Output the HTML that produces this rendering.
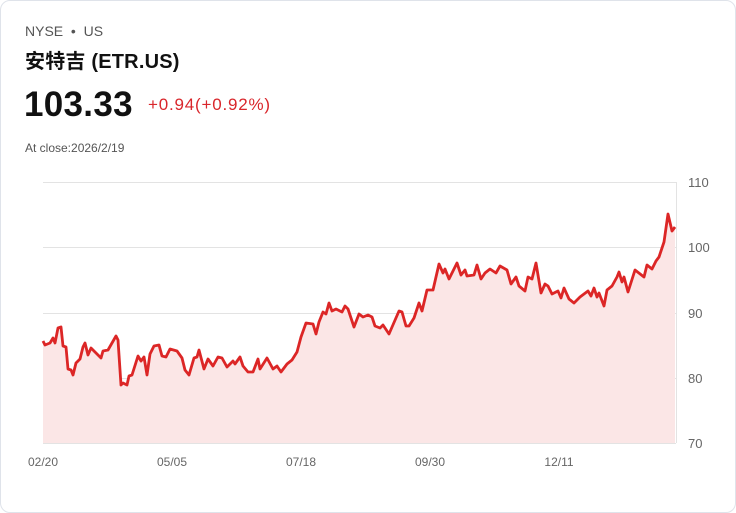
<!DOCTYPE html>
<html><head><meta charset="utf-8"><style>
html,body{margin:0;padding:0;background:#fff;}
body{width:736px;height:513px;overflow:hidden;font-family:"Liberation Sans","Noto Sans CJK SC",sans-serif;}
.card{position:absolute;left:0;top:0;width:734px;height:511px;border:1px solid #dfe3ea;border-radius:10px;}
.t{position:absolute;white-space:nowrap;}
</style></head><body>
<div class="card"></div>
<div class="t" style="left:25px;top:23px;font-size:14px;color:#555;">NYSE &nbsp;•&nbsp; US</div>
<div class="t" style="left:25px;top:45px;font-size:20px;font-weight:bold;color:#111;letter-spacing:0.2px;">安特吉 (ETR.US)</div>
<div class="t" style="left:24px;top:85px;font-size:35px;font-weight:bold;color:#111;letter-spacing:0.3px;">103.33</div>
<div class="t" style="left:148px;top:95px;font-size:17px;font-weight:500;color:#d9262b;letter-spacing:0.8px;">+0.94(+0.92%)</div>
<div class="t" style="left:25px;top:141px;font-size:12px;color:#555;">At close:2026/2/19</div>
<svg width="736" height="513" style="position:absolute;left:0;top:0" font-family="Liberation Sans, sans-serif">
<g stroke="#e3e3e3" stroke-width="1">
<line x1="43" y1="182.5" x2="676" y2="182.5"/><line x1="43" y1="247.5" x2="676" y2="247.5"/><line x1="43" y1="313.5" x2="676" y2="313.5"/><line x1="43" y1="378.5" x2="676" y2="378.5"/><line x1="43" y1="443.5" x2="676" y2="443.5"/>
<line x1="676.5" y1="182" x2="676.5" y2="443"/>
</g>
<g font-size="13" fill="#666">
<text x="688" y="187">110</text><text x="688" y="252">100</text><text x="688" y="318">90</text><text x="688" y="383">80</text><text x="688" y="448">70</text>
<text x="43" y="466" text-anchor="middle" font-size="12">02/20</text>
<text x="172" y="466" text-anchor="middle" font-size="12">05/05</text>
<text x="301" y="466" text-anchor="middle" font-size="12">07/18</text>
<text x="430" y="466" text-anchor="middle" font-size="12">09/30</text>
<text x="559" y="466" text-anchor="middle" font-size="12">12/11</text>
</g>
<path fill="#fbe6e6" d="M43,341 L45,345 L50,343 L53,338 L55,343 L58,328 L61,327 L63,346 L66,347 L68,369 L71,370 L73,375 L76,363 L80,359 L83,347 L85,343 L88,355 L91,348 L95,352 L101,358 L103,351 L108,350 L112,343 L116,336 L118,340 L121,385 L123,383 L127,385 L129,376 L132,375 L138,356 L141,361 L144,357 L147,375 L150,354 L154,346 L159,345 L162,356 L166,357 L170,349 L177,351 L182,358 L185,370 L189,375 L194,358 L197,357 L199,350 L204,369 L208,359 L213,366 L218,357 L222,358 L227,367 L233,361 L235,364 L240,357 L243,366 L248,372 L253,372 L258,359 L260,369 L267,358 L273,369 L277,366 L281,372 L287,364 L292,360 L297,352 L301,337 L306,323 L313,324 L316,334 L319,322 L323,312 L326,314 L329,303 L332,311 L336,309 L342,312 L345,306 L348,309 L354,327 L359,314 L363,317 L368,315 L372,317 L375,326 L380,328 L383,325 L389,334 L399,311 L402,312 L406,326 L409,326 L414,318 L419,303 L422,311 L427,290 L433,290 L439,264 L443,273 L445,269 L449,279 L457,263 L461,275 L465,270 L467,276 L474,275 L477,265 L481,279 L485,273 L490,269 L496,273 L500,266 L507,270 L511,284 L516,277 L519,286 L525,291 L528,277 L532,279 L536,263 L541,293 L545,284 L548,286 L552,294 L558,291 L561,298 L564,288 L569,299 L574,303 L580,297 L588,291 L591,296 L594,288 L597,297 L599,293 L604,306 L607,290 L612,286 L617,277 L619,272 L622,282 L624,277 L628,292 L635,270 L644,277 L647,265 L652,269 L656,261 L659,257 L662,248 L664,242 L668,214 L672,231 L675,227 L675,443 L43,443 Z"/>
<path fill="none" stroke="#dc2626" stroke-width="2.8" stroke-linejoin="round" d="M43,341 L45,345 L50,343 L53,338 L55,343 L58,328 L61,327 L63,346 L66,347 L68,369 L71,370 L73,375 L76,363 L80,359 L83,347 L85,343 L88,355 L91,348 L95,352 L101,358 L103,351 L108,350 L112,343 L116,336 L118,340 L121,385 L123,383 L127,385 L129,376 L132,375 L138,356 L141,361 L144,357 L147,375 L150,354 L154,346 L159,345 L162,356 L166,357 L170,349 L177,351 L182,358 L185,370 L189,375 L194,358 L197,357 L199,350 L204,369 L208,359 L213,366 L218,357 L222,358 L227,367 L233,361 L235,364 L240,357 L243,366 L248,372 L253,372 L258,359 L260,369 L267,358 L273,369 L277,366 L281,372 L287,364 L292,360 L297,352 L301,337 L306,323 L313,324 L316,334 L319,322 L323,312 L326,314 L329,303 L332,311 L336,309 L342,312 L345,306 L348,309 L354,327 L359,314 L363,317 L368,315 L372,317 L375,326 L380,328 L383,325 L389,334 L399,311 L402,312 L406,326 L409,326 L414,318 L419,303 L422,311 L427,290 L433,290 L439,264 L443,273 L445,269 L449,279 L457,263 L461,275 L465,270 L467,276 L474,275 L477,265 L481,279 L485,273 L490,269 L496,273 L500,266 L507,270 L511,284 L516,277 L519,286 L525,291 L528,277 L532,279 L536,263 L541,293 L545,284 L548,286 L552,294 L558,291 L561,298 L564,288 L569,299 L574,303 L580,297 L588,291 L591,296 L594,288 L597,297 L599,293 L604,306 L607,290 L612,286 L617,277 L619,272 L622,282 L624,277 L628,292 L635,270 L644,277 L647,265 L652,269 L656,261 L659,257 L662,248 L664,242 L668,214 L672,231 L675,227"/>
</svg>
</body></html>
